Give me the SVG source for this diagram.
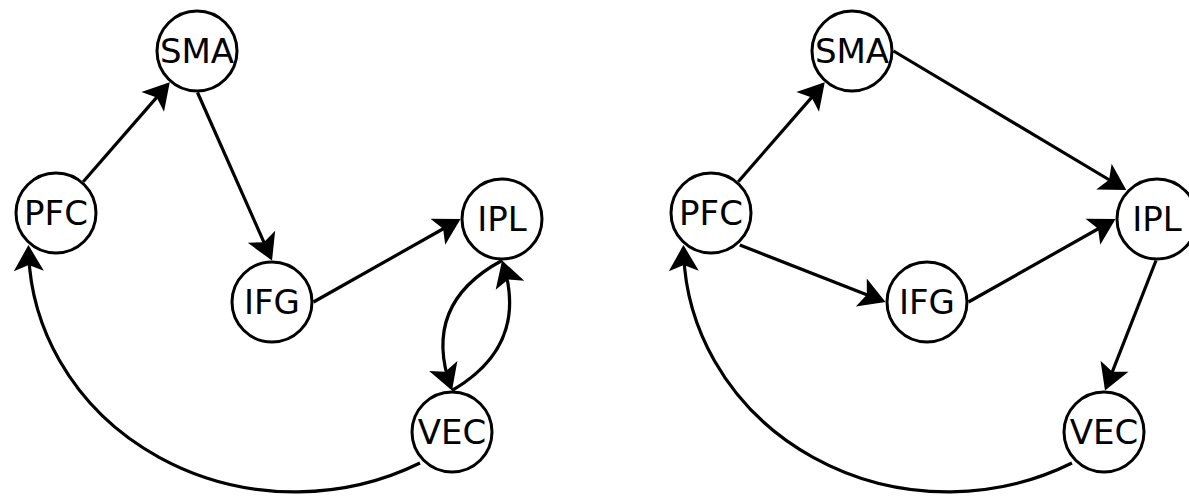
<svg xmlns="http://www.w3.org/2000/svg" width="1189" height="497" viewBox="0 0 1189 497">
<style>
.node circle{fill:#fff;stroke:#000;stroke-width:3}
.node text{font-family:"DejaVu Sans","Liberation Sans",sans-serif;font-size:34px;text-anchor:middle;fill:#000}
.edge{fill:none;stroke:#000;stroke-width:3.2;marker-end:url(#arr)}
</style>
<defs>
<marker id="arr" markerUnits="userSpaceOnUse" markerWidth="40" markerHeight="40" viewBox="-30 -20 40 40" refX="0" refY="0" orient="auto" overflow="visible">
<path d="M3,0 L-23,-15 L-17,0 L-23,15 Z" fill="#000"/>
</marker>
</defs>
<rect width="1189" height="497" fill="#fff"/>
<g id="connectors">
<path class="edge" d="M83.2,181.7 L167.8,84.6"/>
<path class="edge" d="M197.5,92.5 L270.8,257.8"/>
<path class="edge" d="M313.5,302 L457.9,220.5"/>
<path class="edge" d="M502,260.5 Q421,304 451,387.7"/>
<path class="edge" d="M452,390.5 Q529.2,345.6 503,263.3"/>
<path class="edge" d="M420,463 A266.5,247 0 0 1 28.5,248"/>
<path class="edge" d="M738.2,181.7 L822.8,84.6"/>
<path class="edge" d="M893.5,51 L1123.7,188.5"/>
<path class="edge" d="M739.8,245 L882.7,300.9"/>
<path class="edge" d="M968.5,302 L1112.9,220.5"/>
<path class="edge" d="M1156,260.5 L1106.1,387.7"/>
<path class="edge" d="M1072,463 A264.5,247 0 0 1 683.5,248"/>
</g>
<g id="L-SMA" class="node"><circle cx="197" cy="51" r="40"/><text x="197" y="63.4">SMA</text></g>
<g id="L-PFC" class="node"><circle cx="56" cy="213" r="40"/><text x="56" y="225.4">PFC</text></g>
<g id="L-IFG" class="node"><circle cx="272" cy="302" r="40"/><text x="272" y="314.4">IFG</text></g>
<g id="L-IPL" class="node"><circle cx="502" cy="219" r="40"/><text x="502" y="231.4">IPL</text></g>
<g id="L-VEC" class="node"><circle cx="452" cy="432" r="40"/><text x="452" y="444.4">VEC</text></g>
<g id="R-SMA" class="node"><circle cx="852" cy="51" r="40"/><text x="852" y="63.4">SMA</text></g>
<g id="R-PFC" class="node"><circle cx="711" cy="213" r="40"/><text x="711" y="225.4">PFC</text></g>
<g id="R-IFG" class="node"><circle cx="927" cy="302" r="40"/><text x="927" y="314.4">IFG</text></g>
<g id="R-IPL" class="node"><circle cx="1157" cy="219" r="40"/><text x="1157" y="231.4">IPL</text></g>
<g id="R-VEC" class="node"><circle cx="1104" cy="432" r="40"/><text x="1104" y="444.4">VEC</text></g>
</svg>
